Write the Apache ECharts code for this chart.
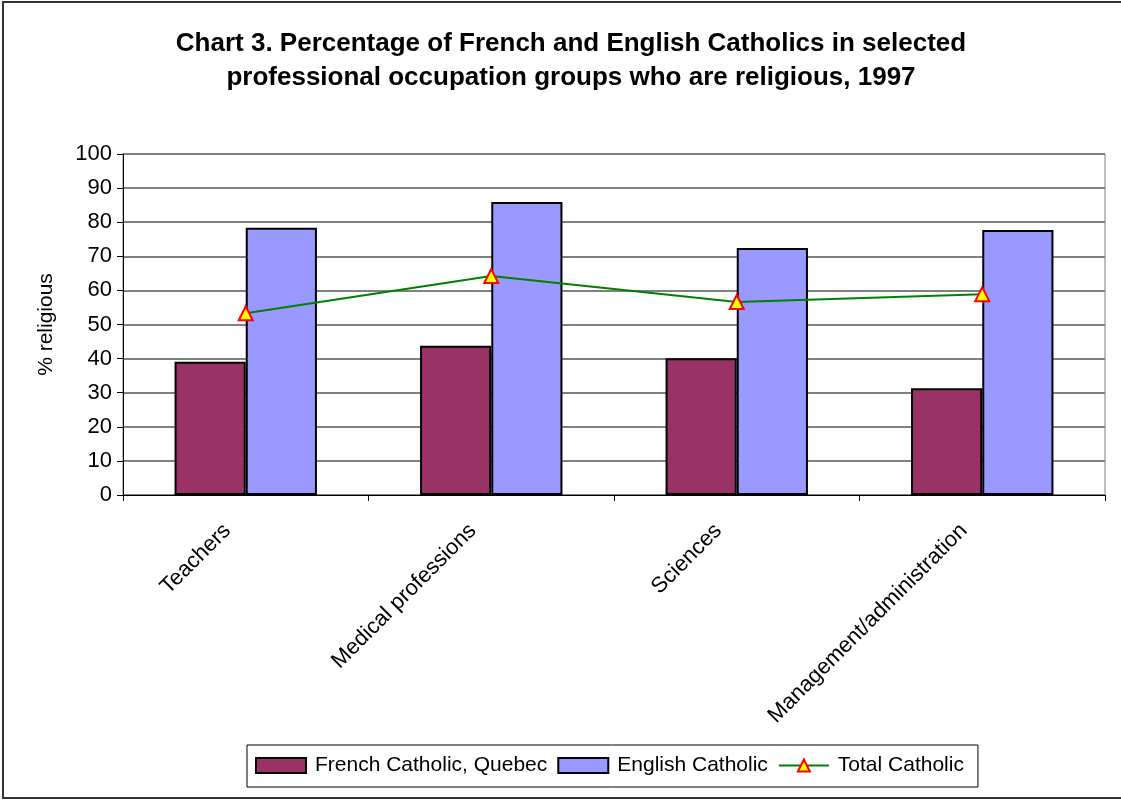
<!DOCTYPE html>
<html>
<head>
<meta charset="utf-8">
<script src="https://cdn.jsdelivr.net/npm/echarts@6/dist/echarts.min.js"></script>
<style>
html,body{margin:0;padding:0;background:#fff;}
#chart{width:1121px;height:801px;}
</style>
</head>
<body>
<div id="chart"></div>
<script>
const categories = ["Teachers", "Medical professions", "Sciences", "Management/administration"];
const frenchCatholicQuebec = [39.1, 43.8, 40.1, 31.3];
const englishCatholic = [78.4, 85.9, 72.4, 77.7];
const totalCatholic = [53.3, 64.2, 56.6, 58.9];
const yTicks = [0, 10, 20, 30, 40, 50, 60, 70, 80, 90, 100];

const chart = echarts.init(document.getElementById('chart'), null, {renderer: 'canvas'});
const font = '"Liberation Sans", Arial, sans-serif';
chart.setOption({
  backgroundColor: '#fff',
  animation: false,
  textStyle: {fontFamily: font, color: '#000'},
  title: {
    text: 'Chart 3. Percentage of French and English Catholics in selected\nprofessional occupation groups who are religious, 1997',
    left: 566, textAlign: 'center', top: 22,
    textStyle: {fontFamily: font, fontSize: 26, fontWeight: 'bold', color: '#000', lineHeight: 34}
  },
  graphic: [{
    type: 'rect', shape: {x: 3, y: 2, width: 1200, height: 796},
    style: {fill: 'none', stroke: '#333', lineWidth: 2}, silent: true
  }],
  legend: {
    left: 247, top: 745,
    padding: [10, 14, 11, 8],
    borderColor: '#000', borderWidth: 1,
    itemWidth: 50, itemHeight: 15, itemGap: 10,
    textStyle: {fontFamily: font, fontSize: 21, color: '#000', padding: [0, 0, 0, 4]},
    data: [
      {name: 'French Catholic, Quebec', icon: 'rect'},
      {name: 'English Catholic', icon: 'rect'},
      {name: 'Total Catholic'}
    ]
  },
  grid: {left: 123, right: 16, top: 154, bottom: 306, show: true, borderColor: '#808080', borderWidth: 1},
  xAxis: {
    type: 'category', data: categories,
    axisLine: {lineStyle: {color: '#000', width: 1}},
    axisTick: {show: true, alignWithLabel: false, inside: false, length: 6, lineStyle: {color: '#000'}},
    axisLabel: {rotate: 45, fontSize: 22, color: '#000', fontFamily: font, margin: 14, interval: 0, padding: [0, 26, 0, 0]}
  },
  yAxis: {
    type: 'value', min: yTicks[0], max: yTicks[yTicks.length - 1], interval: 10,
    name: '% religious', nameLocation: 'middle', nameGap: 66,
    nameTextStyle: {fontSize: 21, color: '#000', fontFamily: font},
    axisLine: {show: true, lineStyle: {color: '#000', width: 1}},
    axisTick: {show: true, length: 6, lineStyle: {color: '#000'}},
    axisLabel: {fontSize: 22, color: '#000', fontFamily: font, margin: 11},
    splitLine: {show: true, lineStyle: {color: '#808080', width: 2}}
  },
  series: [
    {
      name: 'French Catholic, Quebec', type: 'bar', data: frenchCatholicQuebec,
      barWidth: '29%', barGap: '0%',
      itemStyle: {color: '#993366', borderColor: '#000', borderWidth: 2}
    },
    {
      name: 'English Catholic', type: 'bar', data: englishCatholic,
      barWidth: '29%', barGap: '0%',
      itemStyle: {color: '#9999FF', borderColor: '#000', borderWidth: 2}
    },
    {
      name: 'Total Catholic', type: 'line', data: totalCatholic, z: 5,
      symbol: 'triangle', symbolSize: 14,
      lineStyle: {color: '#008000', width: 2},
      itemStyle: {color: '#FFFF00', borderColor: '#FF0000', borderWidth: 2}
    }
  ]
});
</script>
</body>
</html>
